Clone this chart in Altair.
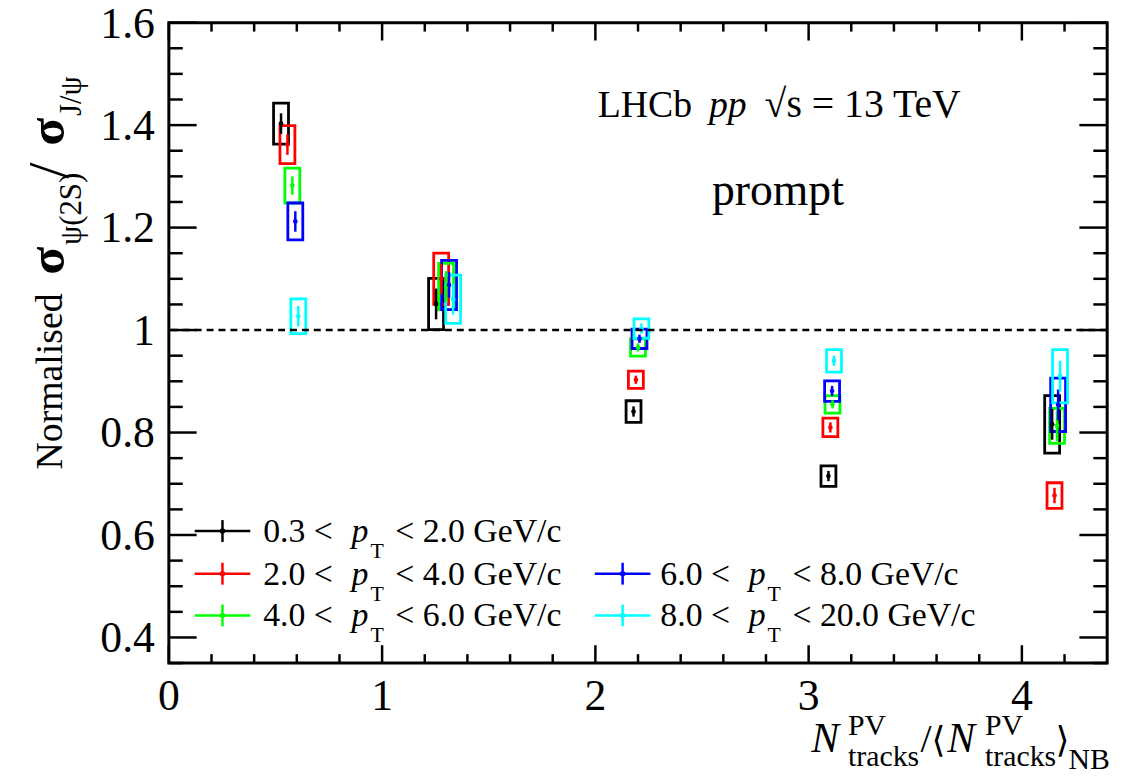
import altair as alt
import pandas as pd

SERIF = 'Liberation Serif'
W, H = 945, 645
X_DOMAIN = [0, 4.4]
Y_DOMAIN = [0.35, 1.6]
BOX_HALF = 0.035  # half width of the systematic boxes, x units

# pT bins, colours
series = ['0.3-2.0', '2.0-4.0', '4.0-6.0', '6.0-8.0', '8.0-20.0']
colors = ['#000000', '#ff0000', '#00ff00', '#0000ff', '#00ffff']
legend_lo = ['0.3', '2.0', '4.0', '6.0', '8.0']
legend_hi = ['2.0', '4.0', '6.0', '8.0', '20.0']

# values
x_black = [0.526, 1.253, 2.179, 3.093, 4.142]
y_black = [1.403, 1.051, 0.841, 0.715, 0.816]
stat_black = [0.020, 0.030, 0.010, 0.010, 0.030]
syst_black = [0.040, 0.050, 0.021, 0.020, 0.056]

x_red = [0.556, 1.277, 2.190, 3.102, 4.153]
y_red = [1.362, 1.100, 0.903, 0.810, 0.677]
stat_red = [0.020, 0.030, 0.008, 0.010, 0.015]
syst_red = [0.037, 0.050, 0.017, 0.018, 0.025]

x_green = [0.579, 1.300, 2.200, 3.112, 4.165]
y_green = [1.282, 1.085, 0.966, 0.855, 0.813]
stat_green = [0.018, 0.030, 0.008, 0.008, 0.030]
syst_green = [0.034, 0.045, 0.017, 0.017, 0.034]

x_blue = [0.593, 1.314, 2.207, 3.110, 4.170]
y_blue = [1.212, 1.088, 0.983, 0.881, 0.854]
stat_blue = [0.020, 0.025, 0.008, 0.010, 0.030]
syst_blue = [0.036, 0.048, 0.019, 0.020, 0.052]

x_cyan = [0.607, 1.333, 2.216, 3.119, 4.179]
y_cyan = [1.027, 1.060, 1.003, 0.940, 0.910]
stat_cyan = [0.020, 0.030, 0.010, 0.010, 0.030]
syst_cyan = [0.034, 0.047, 0.019, 0.022, 0.052]

x_major = [0, 1, 2, 3, 4]
x_labels = ['0', '1', '2', '3', '4']
x_minor = [0.2, 0.4, 0.6, 0.8, 1.2, 1.4, 1.6, 1.8, 2.2, 2.4, 2.6, 2.8,
           3.2, 3.4, 3.6, 3.8, 4.2]
y_major = [0.4, 0.6, 0.8, 1.0, 1.2, 1.4, 1.6]
y_labels = ['0.4', '0.6', '0.8', '1', '1.2', '1.4', '1.6']
y_minor = [0.35, 0.45, 0.5, 0.55, 0.65, 0.7, 0.75, 0.85, 0.9, 0.95, 1.05,
           1.1, 1.15, 1.25, 1.3, 1.35, 1.45, 1.5, 1.55]

rows = []
all_series = zip(series,
                 [x_black, x_red, x_green, x_blue, x_cyan],
                 [y_black, y_red, y_green, y_blue, y_cyan],
                 [stat_black, stat_red, stat_green, stat_blue, stat_cyan],
                 [syst_black, syst_red, syst_green, syst_blue, syst_cyan])
for name, xs, ys, stats, systs in all_series:
    for x, y, st, sy in zip(xs, ys, stats, systs):
        rows.append({'series': name, 'x': x, 'y': y,
                     'lo': y - st, 'hi': y + st,
                     'slo': y - sy, 'shi': y + sy,
                     'xl': x - BOX_HALF, 'xr': x + BOX_HALF})
points = pd.DataFrame(rows)

xs_ = alt.Scale(domain=X_DOMAIN, nice=False, zero=False)
ys_ = alt.Scale(domain=Y_DOMAIN, nice=False, zero=False)
col = alt.Color('series:N', scale=alt.Scale(domain=series, range=colors), legend=None)

base = alt.Chart(points)
boxes = base.mark_rect(filled=False, strokeWidth=2.8).encode(
    x=alt.X('xl:Q', scale=xs_, axis=None),
    x2='xr:Q',
    y=alt.Y('slo:Q', scale=ys_, axis=None),
    y2='shi:Q',
    color=col,
)
bars = base.mark_rule(strokeWidth=2.5).encode(
    x=alt.X('x:Q', scale=xs_, axis=None),
    y=alt.Y('lo:Q', scale=ys_, axis=None),
    y2='hi:Q',
    color=col,
)
dots = base.mark_point(filled=True, size=22, opacity=1).encode(
    x=alt.X('x:Q', scale=xs_, axis=None),
    y=alt.Y('y:Q', scale=ys_, axis=None),
    color=col,
)

unity = alt.Chart(pd.DataFrame({'v': [1.0]})).mark_rule(
    color='black', strokeWidth=2.5, strokeDash=[7, 5]).encode(
    y=alt.Y('v:Q', scale=ys_, axis=None))


def x_ticks(values, length, top=False):
    y0, y1 = (0, length) if top else (H, H - length)
    return alt.Chart(pd.DataFrame({'v': values})).mark_rule(color='black', strokeWidth=2.5).encode(
        x=alt.X('v:Q', scale=xs_, axis=None), y=alt.value(y0), y2=alt.value(y1))


def y_ticks(values, length, right=False):
    x0, x1 = (W, W - length) if right else (0, length)
    return alt.Chart(pd.DataFrame({'v': values})).mark_rule(color='black', strokeWidth=2.5).encode(
        y=alt.Y('v:Q', scale=ys_, axis=None), x=alt.value(x0), x2=alt.value(x1))


ticks = [x_ticks(x_major, 18), x_ticks(x_minor, 9),
         x_ticks(x_major, 18, top=True), x_ticks(x_minor, 9, top=True),
         y_ticks(y_major, 28), y_ticks(y_minor, 14),
         y_ticks(y_major, 28, right=True), y_ticks(y_minor, 14, right=True)]

x_tick_text = alt.Chart(pd.DataFrame({'v': x_major, 't': x_labels})).mark_text(
    font=SERIF, fontSize=44, color='black', align='center', baseline='alphabetic').encode(
    x=alt.X('v:Q', scale=xs_, axis=None), y=alt.value(H + 47), text='t:N')
y_tick_text = alt.Chart(pd.DataFrame({'v': y_major, 't': y_labels})).mark_text(
    font=SERIF, fontSize=44, color='black', align='right', baseline='alphabetic', dy=15).encode(
    y=alt.Y('v:Q', scale=ys_, axis=None), x=alt.value(-14), text='t:N')


def label(text, px, py, size, italic=False, angle=0, font=SERIF, bold=False):
    props = {'font': font, 'fontSize': size, 'color': 'black',
             'align': 'left', 'baseline': 'alphabetic'}
    if italic:
        props['fontStyle'] = 'italic'
    if bold:
        props['fontWeight'] = 'bold'
    if angle:
        props['angle'] = angle
    return alt.Chart(pd.DataFrame({'t': [text]})).mark_text(**props).encode(
        x=alt.value(px), y=alt.value(py), text='t:N')


texts = [
    # LHCb label
    label('LHCb', 432, 95, 38),
    label('pp', 544, 95, 38, italic=True),
    label('√s = 13 TeV', 600, 95, 40),
    label('prompt', 547, 184, 46),
    # y title (rotated)
    label('Normalised', -108, 450, 38, angle=270),
    label('σ', -106, 254, 52, angle=270, bold=True),
    label('ψ(2S)', -88, 224, 31, angle=270),
    label('/', -102, 157, 58, angle=270),
    label('σ', -106, 124, 52, angle=270, bold=True),
    label('J/ψ', -88, 94, 31, angle=270),
    # x title
    label('N', 647, 735, 42, italic=True),
    label('PV', 684, 717, 30),
    label('tracks', 684, 749, 30),
    label('/', 757, 735, 40),
    label('⟨', 768, 735, 36, font='DejaVu Serif'),
    label('N', 784, 735, 42, italic=True),
    label('PV', 822, 717, 30),
    label('tracks', 822, 749, 30),
    label('⟩', 893, 735, 36, font='DejaVu Serif'),
    label('NB', 906, 752, 30),
]

# legend: (series index, symbol centre x, text x, row y)
legend_slots = [(0, 54, 95, 512), (1, 54, 95, 555), (2, 54, 95, 597),
                (3, 457, 495, 555), (4, 457, 495, 597)]
legend_layers = []
for i, sx, tx, ry in legend_slots:
    c = colors[i]
    one = pd.DataFrame({'t': [0]})
    legend_layers.append(alt.Chart(one).mark_rule(color=c, strokeWidth=2.5).encode(
        x=alt.value(sx - 28), x2=alt.value(sx + 28), y=alt.value(ry)))
    legend_layers.append(alt.Chart(one).mark_rule(color=c, strokeWidth=2.5).encode(
        x=alt.value(sx), y=alt.value(ry - 11), y2=alt.value(ry + 11)))
    legend_layers.append(alt.Chart(one).mark_point(color=c, filled=True, size=30, opacity=1).encode(
        x=alt.value(sx), y=alt.value(ry)))
    legend_layers.append(label(legend_lo[i] + ' <', tx, ry + 11, 34))
    legend_layers.append(label('p', tx + 89, ry + 11, 34, italic=True))
    legend_layers.append(label('T', tx + 108, ry + 27, 22))
    legend_layers.append(label('< ' + legend_hi[i] + ' GeV/c', tx + 133, ry + 11, 34))

chart = alt.layer(boxes, bars, dots, unity, *ticks, x_tick_text, y_tick_text,
                  *texts, *legend_layers).properties(
    width=W, height=H,
    autosize=alt.AutoSizeParams(type='none'),
    padding={'left': 162, 'top': 12, 'right': 25, 'bottom': 115},
).configure_view(stroke='black', strokeWidth=3)

chart.save('out.html', embed_options={'renderer': 'svg', 'actions': False})
